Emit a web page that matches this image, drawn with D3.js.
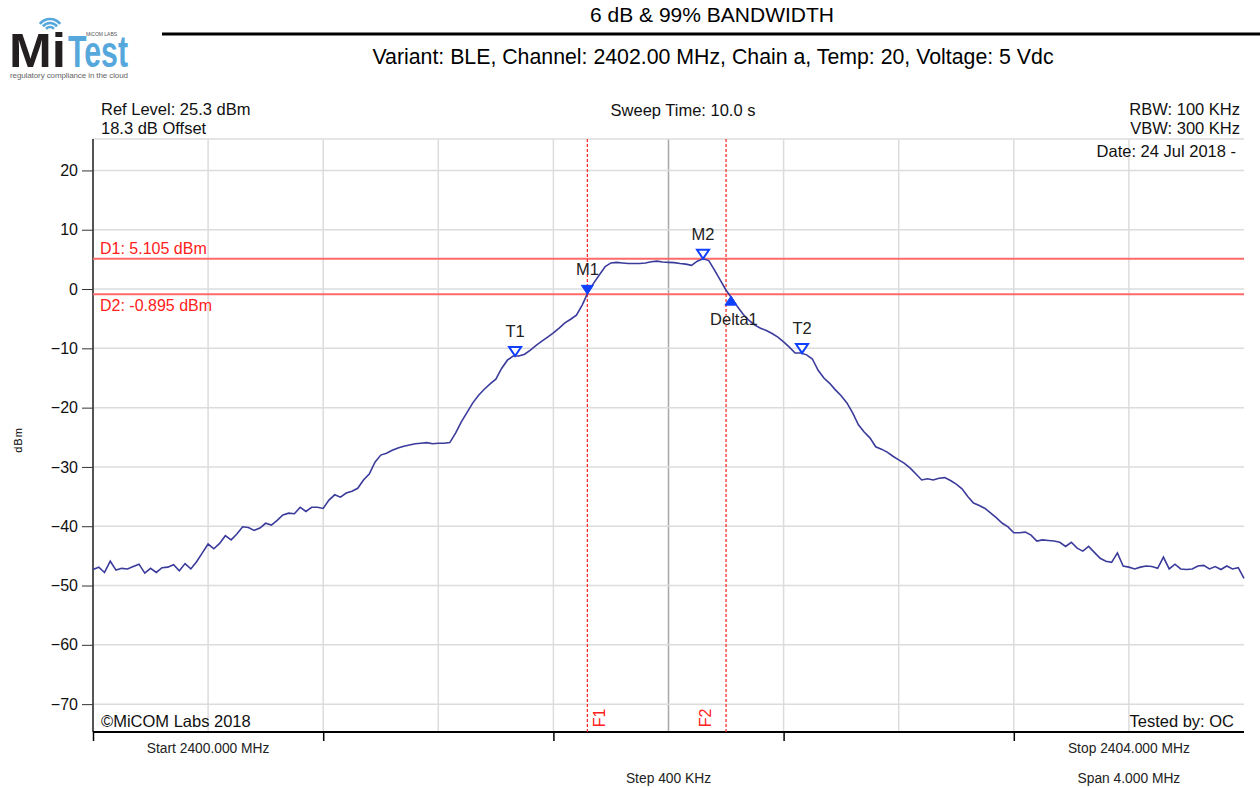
<!DOCTYPE html>
<html>
<head>
<meta charset="utf-8">
<style>
  body { margin: 0; background: #fff; }
  text { font-family: "Liberation Sans", Arial, sans-serif; }
</style>
</head>
<body>
<svg width="1260" height="788"></svg>
<script src="https://d3js.org/d3.v7.min.js"></script>
<script>

// sweep settings
var startMHz = 2400, stopMHz = 2404, stepMHz = 0.02;
var refLevel = 25.3, bottomLevel = -74.7;
var yTicks = [20, 10, 0, -10, -20, -30, -40, -50, -60, -70];
var gridFreqs = [2400.4, 2400.8, 2401.2, 2401.6, 2402.0, 2402.4, 2402.8, 2403.2, 2403.6];
var axisTickFreqs = [2400, 2400.8, 2401.6, 2402.4, 2403.2];

// trace, one value every 20 kHz from 2400 MHz
var traceDbm = [
  -47.3, -46.9, -47.8, -45.9, -47.4, -47.1, -47.2, -46.8, -46.4, -47.9,
  -47.1, -47.8, -47.0, -46.9, -46.5, -47.5, -46.3, -47.2, -46.0, -44.5,
  -43.0, -43.8, -42.9, -41.6, -42.3, -41.3, -40.1, -40.2, -40.7, -40.3,
  -39.5, -39.8, -39.0, -38.1, -37.8, -37.9, -36.8, -37.5, -36.8, -36.8,
  -37.0, -35.6, -34.7, -35.1, -34.4, -34.1, -33.6, -32.2, -31.2, -29.2,
  -28.0, -27.7, -27.2, -26.8, -26.5, -26.3, -26.1, -26.0, -25.9, -26.1,
  -26.0, -26.0, -25.9, -24.3, -22.4, -20.8, -19.2, -17.9, -16.9, -16.0,
  -15.2, -13.4, -12.0, -11.3, -11.3, -11.0, -10.3, -9.5, -8.8, -8.1,
  -7.4, -6.6, -5.7, -5.1, -4.4, -2.7, -0.6, 1.0, 2.4, 3.8,
  4.4, 4.5, 4.4, 4.3, 4.3, 4.3, 4.4, 4.6, 4.7, 4.55,
  4.5, 4.45, 4.3, 4.2, 4.0, 4.7, 5.1, 4.8, 3.2, 1.5,
  -0.2, -1.5, -3.0, -4.3, -5.3, -6.1, -6.6, -7.0, -7.5, -8.1,
  -8.9, -9.8, -10.8, -10.8, -11.1, -11.8, -13.7, -15.0, -15.9, -17.0,
  -18.0, -19.2, -20.9, -22.9, -24.1, -25.1, -26.6, -27.0, -27.5, -28.2,
  -28.8, -29.4, -30.2, -31.2, -32.2, -32.0, -32.2, -31.9, -31.8, -32.3,
  -32.9, -33.7, -35.0, -36.1, -36.5, -37.0, -37.8, -38.6, -39.5, -40.1,
  -41.1, -41.1, -41.0, -41.5, -42.5, -42.3, -42.4, -42.5, -42.7, -43.4,
  -42.7, -43.7, -44.2, -43.4, -44.4, -45.4, -45.9, -46.1, -44.5, -46.7,
  -46.9, -47.2, -46.9, -46.7, -46.8, -47.1, -45.2, -47.2, -46.4, -47.2,
  -47.3, -47.2, -46.7, -46.6, -47.2, -46.8, -47.3, -46.7, -47.2, -47.0,
  -48.8
];

// display lines and markers
var dLines = [{ name: "D1", value: 5.105, label: "D1: 5.105 dBm" },
              { name: "D2", value: -0.895, label: "D2: -0.895 dBm" }];
var fLines = [{ name: "F1", freq: 2401.718, side: 1 }, { name: "F2", freq: 2402.200, side: -1 }];
var markers = [
  { name: "T1", freq: 2401.467, value: -11.3, dir: "down", filled: false },
  { name: "M1", freq: 2401.718, value: -0.895, dir: "down", filled: true },
  { name: "M2", freq: 2402.120, value: 5.105, dir: "down", filled: false },
  { name: "Delta1", freq: 2402.217, value: -1.2, dir: "up", filled: true },
  { name: "T2", freq: 2402.464, value: -10.8, dir: "down", filled: false }
];

var svg = d3.select("svg");
var plotLeft = 93, plotRight = 1244, plotTop = 139, plotBottom = 732;

var x = d3.scaleLinear().domain([startMHz, stopMHz]).range([plotLeft, plotRight]);
var y = d3.scaleLinear().domain([bottomLevel, refLevel]).range([plotBottom, plotTop]);

// ---- header ----
svg.append("text").attr("x", 712).attr("y", 22).attr("text-anchor", "middle")
  .style("font-size", "21px").text("6 dB & 99% BANDWIDTH");
svg.append("line").attr("x1", 162).attr("x2", 1260).attr("y1", 34).attr("y2", 34)
  .attr("stroke", "#000").attr("stroke-width", 3);
svg.append("text").attr("x", 713).attr("y", 64).attr("text-anchor", "middle")
  .style("font-size", "21.3px").text("Variant: BLE, Channel: 2402.00 MHz, Chain a, Temp: 20, Voltage: 5 Vdc");

// logo
var logo = svg.append("g");
logo.append("text").attr("x", 9).attr("y", 67).style("font-size", "48px").style("font-weight", "bold")
  .attr("fill", "#231f20").attr("textLength", 57).attr("lengthAdjust", "spacingAndGlyphs").text("Mi");
logo.append("text").attr("x", 68).attr("y", 67).style("font-size", "45px").style("font-weight", "bold")
  .attr("fill", "#56a8dc").attr("textLength", 60).attr("lengthAdjust", "spacingAndGlyphs").text("Test");
[5, 9, 13].forEach(function (r) {
  logo.append("path")
    .attr("d", d3.arc()({ innerRadius: r - 1.3, outerRadius: r + 1.3, startAngle: -0.9, endAngle: 0.9 }))
    .attr("transform", "translate(50,32)").attr("fill", "#56a8dc");
});
logo.append("text").attr("x", 86).attr("y", 36).style("font-size", "5px").attr("fill", "#555").text("MiCOM LABS");
logo.append("text").attr("x", 10).attr("y", 78).style("font-size", "8px").attr("fill", "#666")
  .attr("textLength", 118).text("regulatory compliance in the cloud");

// ---- info texts ----
function info(tx, ty, anchor, s) {
  svg.append("text").attr("x", tx).attr("y", ty).attr("text-anchor", anchor)
    .style("font-size", "16.5px").attr("fill", "#111").text(s);
}
info(101, 115, "start", "Ref Level: 25.3 dBm");
info(101, 134, "start", "18.3 dB Offset");
info(683, 116, "middle", "Sweep Time: 10.0 s");
info(1240, 115, "end", "RBW: 100 KHz");
info(1240, 134, "end", "VBW: 300 KHz");

// ---- grid ----
var grid = svg.append("g");
grid.selectAll("line.v").data(gridFreqs).enter().append("line")
  .attr("x1", function (d) { return x(d); }).attr("x2", function (d) { return x(d); })
  .attr("y1", plotTop).attr("y2", plotBottom)
  .attr("stroke", function (d) { return Math.abs(d - 2402) < 1e-6 ? "#a8a8a8" : "#dcdcdc"; })
  .attr("stroke-width", 1.5);
grid.selectAll("line.h").data(yTicks).enter().append("line")
  .attr("x1", plotLeft).attr("x2", plotRight)
  .attr("y1", function (d) { return y(d); }).attr("y2", function (d) { return y(d); })
  .attr("stroke", "#dcdcdc").attr("stroke-width", 1.5);
grid.append("line").attr("x1", plotLeft).attr("x2", plotRight).attr("y1", plotTop).attr("y2", plotTop)
  .attr("stroke", "#dcdcdc").attr("stroke-width", 1.5);

info(1236, 157, "end", "Date: 24 Jul 2018 -");

// ---- y axis ----
var yAxis = d3.axisLeft(y).tickValues(yTicks).tickSize(11).tickPadding(4);
var ya = svg.append("g").attr("transform", "translate(" + plotLeft + ",0)").call(yAxis);
ya.select(".domain").attr("stroke", "#555").attr("stroke-width", 2).attr("d", "M0," + plotTop + "V" + plotBottom);
ya.selectAll(".tick line").attr("stroke", "#333");
ya.selectAll(".tick text").style("font-size", "16px").attr("fill", "#111")
  .style("font-family", "'Liberation Sans', Arial, sans-serif");
svg.append("text").attr("transform", "translate(22,440) rotate(-90)").attr("text-anchor", "middle")
  .style("font-size", "11px").attr("letter-spacing", "1").text("dBm");

// ---- x axis ----
var xAxis = d3.axisBottom(x).tickValues(axisTickFreqs).tickSize(9).tickFormat("");
var xa = svg.append("g").attr("transform", "translate(0," + plotBottom + ")").call(xAxis);
xa.select(".domain").attr("stroke", "#000").attr("stroke-width", 2).attr("d", "M" + plotLeft + ",0H" + plotRight);
xa.selectAll(".tick line").attr("stroke", "#000").attr("stroke-width", 1.5);
function axText(tx, ty, s) {
  svg.append("text").attr("x", tx).attr("y", ty).attr("text-anchor", "middle")
    .style("font-size", "13.8px").attr("fill", "#222").text(s);
}
axText(x(2400.4), 753, "Start " + startMHz.toFixed(3) + " MHz");
axText(x(2403.6), 753, "Stop " + stopMHz.toFixed(3) + " MHz");
axText(x(2402), 783, "Step 400 KHz");
axText(x(2403.6), 783, "Span " + (stopMHz - startMHz).toFixed(3) + " MHz");

// ---- D lines ----
svg.selectAll("line.d").data(dLines).enter().append("line")
  .attr("x1", plotLeft).attr("x2", plotRight)
  .attr("y1", function (d) { return y(d.value); }).attr("y2", function (d) { return y(d.value); })
  .attr("stroke", "#ff6a6a").attr("stroke-width", 2);
svg.append("text").attr("x", 100).attr("y", y(dLines[0].value) - 5).style("font-size", "16px")
  .attr("fill", "#ff2020").text(dLines[0].label);
svg.append("text").attr("x", 100).attr("y", y(dLines[1].value) + 17).style("font-size", "16px")
  .attr("fill", "#ff2020").text(dLines[1].label);

// ---- F lines ----
svg.selectAll("line.f").data(fLines).enter().append("line")
  .attr("x1", function (d) { return x(d.freq); }).attr("x2", function (d) { return x(d.freq); })
  .attr("y1", plotTop).attr("y2", plotBottom)
  .attr("stroke", "#ff2020").attr("stroke-width", 1.2).attr("stroke-dasharray", "3,2");
fLines.forEach(function (d) {
  var lx = d.side > 0 ? x(d.freq) + 18 : x(d.freq) - 15;
  svg.append("text").attr("transform", "translate(" + lx + ",718) rotate(-90)")
    .attr("text-anchor", "middle").style("font-size", "16px").attr("fill", "#ff2020").text(d.name);
});

// ---- trace ----
var line = d3.line()
  .x(function (d, i) { return x(startMHz + i * stepMHz); })
  .y(function (d) { return y(d); });
svg.append("path").datum(traceDbm).attr("d", line)
  .attr("fill", "none").attr("stroke", "#3b3b9c").attr("stroke-width", 1.6);

// ---- markers ----
markers.forEach(function (m) {
  var mx = x(m.freq), my = y(m.value);
  var p;
  if (m.dir === "down") {
    p = "M" + (mx - 6) + "," + (my - 9) + "L" + (mx + 6) + "," + (my - 9) + "L" + mx + "," + my + "Z";
  } else {
    p = "M" + (mx - 6) + "," + (my + 9) + "L" + (mx + 6) + "," + (my + 9) + "L" + mx + "," + my + "Z";
  }
  svg.append("path").attr("d", p)
    .attr("fill", m.filled ? "#1040ff" : "#fff")
    .attr("stroke", "#1040ff").attr("stroke-width", m.filled ? 1 : 2);
  var ly = m.dir === "down" ? my - 19 : my + 29;
  var lx = m.name === "Delta1" ? mx + 3 : mx;
  svg.append("text").attr("x", lx).attr("y", ly).attr("text-anchor", "middle")
    .style("font-size", "16.5px").attr("fill", "#222").text(m.name);
});

// footer texts in plot
info(101, 727, "start", "\u00A9MiCOM Labs 2018");
info(1234, 727, "end", "Tested by: OC");

</script>
</body>
</html>
